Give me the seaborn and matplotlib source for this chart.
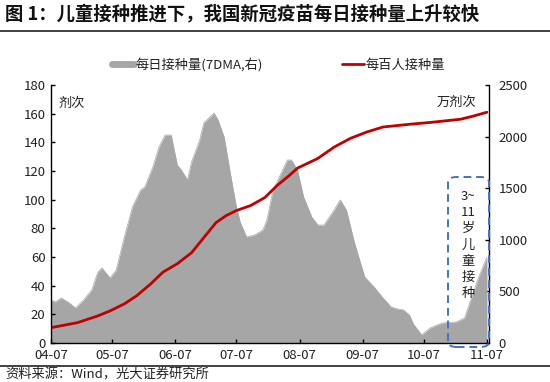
import matplotlib
matplotlib.use("Agg")
import matplotlib.pyplot as plt
from matplotlib.lines import Line2D
from matplotlib.patches import FancyBboxPatch
import seaborn as sns
import pandas as pd

# ---------------- data ----------------
daily_dates = ["04-07", "04-09", "04-12", "04-16", "04-19", "04-23", "04-27", "04-30",
               "05-02", "05-06", "05-09", "05-13", "05-17", "05-21", "05-23", "05-27",
               "05-30", "06-02", "06-05", "06-08", "06-10", "06-13", "06-15", "06-19",
               "06-21", "06-26", "06-28", "07-01", "07-04", "07-07", "07-09", "07-12",
               "07-16", "07-20", "07-22", "07-25", "07-29", "08-01", "08-03", "08-06",
               "08-09", "08-13", "08-16", "08-19", "08-23", "08-27", "08-30", "09-03",
               "09-08", "09-13", "09-17", "09-21", "09-24", "09-27", "09-30", "10-02",
               "10-06", "10-10", "10-16", "10-23", "10-27", "10-30", "11-03", "11-07"]
daily_vals = [417, 397, 436, 388, 339, 417, 514, 688,
              727, 630, 707, 1027, 1318, 1483, 1511, 1705,
              1899, 2015, 2015, 1725, 1676, 1580, 1754, 1967,
              2132, 2229, 2161, 1996, 1647, 1318, 1163, 1027,
              1047, 1095, 1192, 1483, 1647, 1773, 1773, 1676,
              1415, 1221, 1143, 1143, 1260, 1386, 1289, 969,
              640, 533, 436, 349, 330, 320, 270, 180,
              78, 145, 194, 204, 242, 417, 640, 833]

per100_dates = ["04-07", "04-20", "04-30", "05-06", "05-13", "05-19", "05-26", "06-01",
                "06-08", "06-15", "06-21", "06-27", "07-02", "07-07", "07-14", "07-21",
                "07-27", "08-02", "08-06", "08-16", "08-24", "09-01", "09-09", "09-17",
                "09-30", "10-11", "10-25", "10-31", "11-07"]
per100_vals = [10.7, 14.2, 18.9, 22.4, 27.3, 32.9, 41.3, 49.5,
               55.3, 63.0, 73.5, 84.0, 88.9, 92.4, 95.9, 101.5,
               109.9, 116.9, 122.0, 128.8, 136.7, 142.8, 147.2, 150.7,
               152.6, 154.0, 156.1, 158.2, 161.0]

left_ticks = list(range(0, 181, 20))
right_ticks = list(range(0, 2501, 500))
x_tick_labels = ["04-07", "05-07", "06-07", "07-07", "08-07", "09-07", "10-07", "11-07"]

title = "图 1：儿童接种推进下，我国新冠疫苗每日接种量上升较快"
source = "资料来源：Wind，光大证券研究所"
legend_labels = ["每日接种量(7DMA,右)", "每百人接种量"]
box_text = "3~\n11\n岁\n儿\n童\n接\n种"

# ---------------- style ----------------
sns.set_theme(style="white")
plt.rcParams["font.family"] = ["Noto Sans CJK SC", "DejaVu Sans"]
plt.rcParams["axes.unicode_minus"] = False

GRAY = "#A6A6A6"
RED = "#C00000"
BLUE = "#4472C4"
TXT = "#222222"

df_daily = pd.DataFrame({"date": pd.to_datetime(["2021-" + d for d in daily_dates]),
                         "val": daily_vals})
df_p100 = pd.DataFrame({"date": pd.to_datetime(["2021-" + d for d in per100_dates]),
                        "val": per100_vals})

fig = plt.figure(figsize=(5.5, 3.82), dpi=100)
ax = fig.add_axes([51 / 550, 1 - 343 / 382, 438 / 550, 258 / 382])
ax2 = ax.twinx()

# gray area on right axis
sns.lineplot(data=df_daily, x="date", y="val", ax=ax2, color=GRAY, lw=0.5)
ax2.fill_between(df_daily["date"], 0, df_daily["val"], color=GRAY, lw=0)

# red line on left axis
sns.lineplot(data=df_p100, x="date", y="val", ax=ax, color=RED, lw=2)

ax.set_zorder(ax2.get_zorder() + 1)
ax.patch.set_visible(False)

xmin = pd.Timestamp("2021-04-07")
xmax = pd.Timestamp("2021-11-08")
ax.set_xlim(xmin, xmax)
ax2.set_xlim(xmin, xmax)
ax.set_ylim(0, 180)
ax2.set_ylim(0, 2500)
ax.set_yticks(left_ticks)
ax2.set_yticks(right_ticks)
xt = pd.to_datetime(["2021-" + d for d in x_tick_labels])
ax.set_xticks(xt)
ax.set_xticklabels(x_tick_labels)
ax.set_xlabel("")
ax.set_ylabel("")
ax2.set_xlabel("")
ax2.set_ylabel("")

for a in (ax, ax2):
    for s in a.spines.values():
        s.set_visible(False)
ax.spines["left"].set_visible(True)
ax.spines["bottom"].set_visible(True)
ax2.spines["right"].set_visible(True)
for s in (ax.spines["left"], ax.spines["bottom"], ax2.spines["right"]):
    s.set_color("#000000")
    s.set_linewidth(1.0)

ax.tick_params(axis="both", direction="in", length=3, width=1, color="#000000",
               labelsize=9.5, labelcolor=TXT, pad=3)
ax.tick_params(axis="y", left=True, right=False, pad=4)
ax.tick_params(axis="x", bottom=True, pad=4)
ax2.tick_params(axis="y", direction="in", length=3, width=1, color="#000000",
                labelsize=9.5, labelcolor=TXT, right=True, pad=7)
ax2.tick_params(axis="x", bottom=False, labelbottom=False)

# unit labels
ax.text(72 / 550, 1 - 103 / 382, "剂次", transform=fig.transFigure, fontsize=9.5,
        color=TXT, ha="center", va="center")
ax.text(476 / 550, 1 - 102 / 382, "万剂次", transform=fig.transFigure, fontsize=9.5,
        color=TXT, ha="right", va="center")

# dashed rounded box
x0 = (448 - 51) / 438
y0 = (343 - 347) / 258
w = (489 - 448) / 438
h = (347 - 177) / 258
box = FancyBboxPatch((x0, y0), w, h, boxstyle="round,pad=0,rounding_size=0.02",
                     transform=ax.transAxes, fill=False, edgecolor=BLUE,
                     linestyle=(0, (4, 2.5)), lw=1.4, clip_on=False, zorder=10)
ax.add_patch(box)
ax.text(468 / 550, 1 - 245 / 382, box_text, transform=fig.transFigure, fontsize=9.5,
        color=TXT, ha="center", va="center", linespacing=1.32, zorder=11)

# legend
handles = [Line2D([0], [0], color=GRAY, lw=5), Line2D([0], [0], color=RED, lw=2)]
fig.legend(handles, legend_labels, loc="center", bbox_to_anchor=(0.506, 1 - 65 / 382),
           ncol=2, frameon=False, fontsize=9.5, handlelength=1.7, handletextpad=0.1,
           columnspacing=6.0, labelcolor=TXT)

# title + rules + source
fig.text(5 / 550, 1 - 15 / 382, title, fontsize=13.2, fontweight="bold", color="#111111",
         ha="left", va="center")
fig.add_artist(Line2D([0, 1], [1 - 31 / 382] * 2, color="#333333", lw=1.3,
                      transform=fig.transFigure))
fig.add_artist(Line2D([0, 1], [1 - 366 / 382] * 2, color="#333333", lw=1.3,
                      transform=fig.transFigure))
fig.text(5 / 550, 1 - 375 / 382, source, fontsize=9.5, color=TXT, ha="left", va="center")

fig.savefig("out.png", dpi=100)
